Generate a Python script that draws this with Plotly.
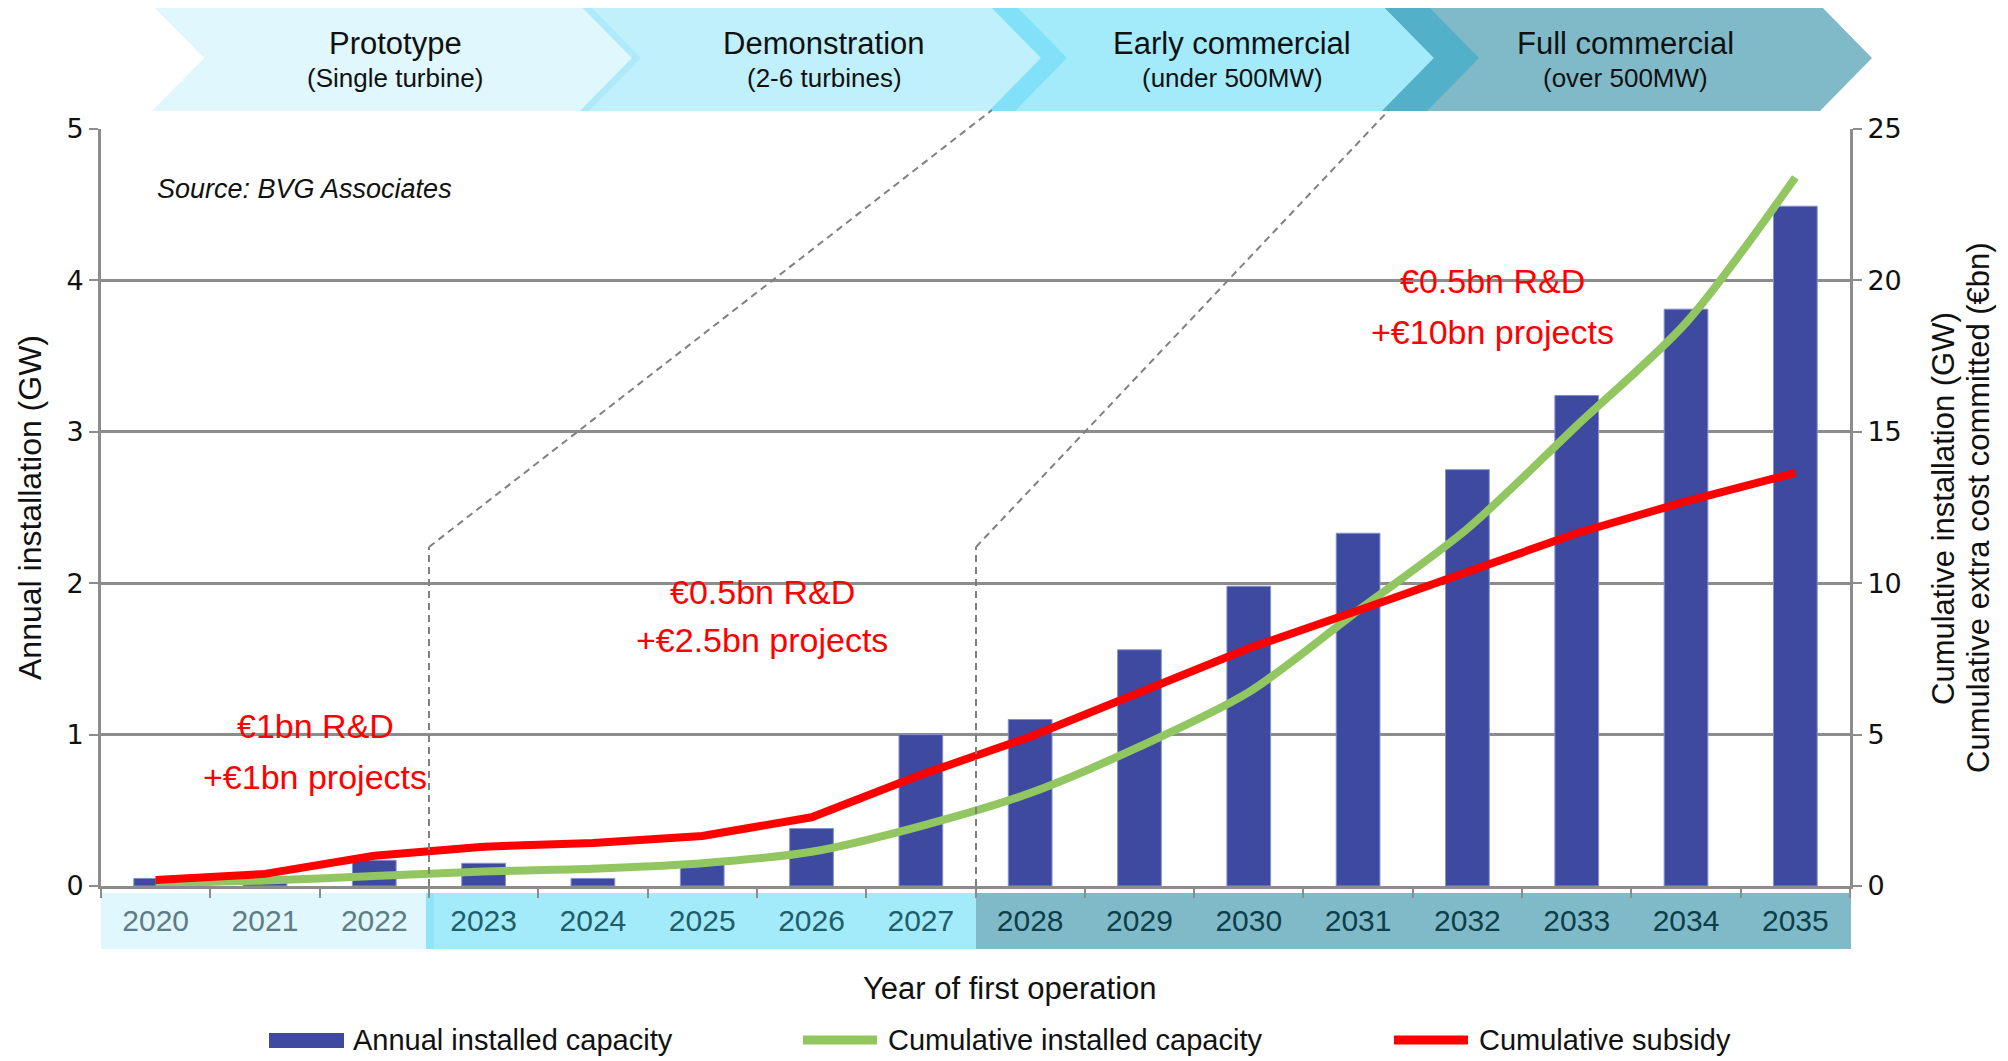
import plotly.graph_objects as go

# ---------------- data ----------------
years = [str(y) for y in range(2020, 2036)]
annual_gw = [0.05, 0.03, 0.17, 0.15, 0.05, 0.15, 0.38, 1.00, 1.10, 1.56, 1.98, 2.33, 2.75, 3.24, 3.81, 4.49]
cumulative_gw = [0.10, 0.18, 0.33, 0.48, 0.57, 0.75, 1.13, 1.98, 3.07, 4.60, 6.40, 9.10, 11.80, 15.20, 18.60, 23.40]
cumulative_subsidy = [0.20, 0.40, 1.00, 1.30, 1.42, 1.65, 2.27, 3.67, 4.93, 6.42, 7.85, 9.10, 10.40, 11.65, 12.70, 13.64]

phase_titles = ["Prototype", "Demonstration", "Early commercial", "Full commercial"]
phase_subtitles = ["(Single turbine)", "(2-6 turbines)", "(under 500MW)", "(over 500MW)"]
phase_year_groups = [["2020", "2021", "2022"],
                     ["2023", "2024", "2025", "2026", "2027"],
                     ["2028", "2029", "2030", "2031", "2032", "2033", "2034", "2035"]]
funding_lines = [("€1bn R&D", "+€1bn projects"),
                 ("€0.5bn R&D", "+€2.5bn projects"),
                 ("€0.5bn R&D", "+€10bn projects")]

# ---------------- layout constants ----------------
# page coordinates of the design; the html body has an 8px default margin
OFF = 8
W, H = 2008 - OFF, 1061 - OFF
PL, PR, PT, PB = 101, 1850, 129, 886          # plot area in page pixels
FONT = "Liberation Sans, Arial, sans-serif"

def px(x):
    return (x - PL) / (PR - PL)

def py(y):
    return (PB - y) / (PB - PT)

BAR = "#3D4A9F"
GREEN = "#92C660"
RED = "#FF0000"
GRID = "#8C8C8C"

fig = go.Figure()

fig.add_trace(go.Bar(x=years, y=annual_gw, name="Annual installed capacity",
                     marker=dict(color=BAR, line=dict(color="#8790CC", width=1)),
                     yaxis="y"))
fig.add_trace(go.Scatter(x=years, y=cumulative_gw, name="Cumulative installed capacity",
                         mode="lines", line=dict(color=GREEN, width=8, shape="spline", smoothing=0.8),
                         yaxis="y2"))
fig.add_trace(go.Scatter(x=years, y=cumulative_subsidy, name="Cumulative subsidy",
                         mode="lines", line=dict(color=RED, width=8),
                         yaxis="y2"))

shapes = []
annotations = []

# ---------- chevrons ----------
def chevron(x0, x1, color, top=5, bot=111, d=52):
    mid = (top + bot) / 2
    pts = [(x0, top), (x1, top), (x1 + d, mid), (x1, bot), (x0, bot), (x0 + d, mid)]
    path = "M " + " L ".join(f"{px(a):.5f},{py(b):.5f}" for a, b in pts) + " Z"
    return dict(type="path", xref="paper", yref="paper", path=path,
                fillcolor=color, line=dict(width=0), layer="below")

shapes.append(chevron(152, 589, "#DFF7FD"))
shapes.append(chevron(580, 1015, "#C0F0FC"))
shapes.append(chevron(989, 1427, "#A3EBFB"))
shapes.append(chevron(1382, 1820, "#80BAC9"))
shapes.append(chevron(580, 589, "#AEEAFA"))
shapes.append(chevron(989, 1015, "#80E1F8"))
shapes.append(chevron(1382, 1427, "#52B0C8"))

chev_centers = [395, 824, 1232, 1625]
for cx, t, s in zip(chev_centers, phase_titles, phase_subtitles):
    annotations.append(dict(xref="paper", yref="paper", x=px(cx), y=py(44), text=t,
                            showarrow=False, xanchor="center", yanchor="middle",
                            font=dict(family=FONT, size=31, color="#111111")))
    annotations.append(dict(xref="paper", yref="paper", x=px(cx), y=py(78), text=s,
                            showarrow=False, xanchor="center", yanchor="middle",
                            font=dict(family=FONT, size=26, color="#111111")))

# ---------- year band under the axis ----------
band_colors = ["#DFF7FD", "#A3EBFB", "#80BAC9"]
band_edges = [101, 429, 976, 1851]
for i in range(3):
    shapes.append(dict(type="rect", xref="paper", yref="paper",
                       x0=px(band_edges[i]), x1=px(band_edges[i + 1]),
                       y0=py(949), y1=py(893), fillcolor=band_colors[i],
                       line=dict(width=0), layer="below"))
shapes.append(dict(type="rect", xref="paper", yref="paper", x0=px(426), x1=px(434),
                   y0=py(949), y1=py(893), fillcolor="#8FE4F8", line=dict(width=0), layer="below"))

label_colors = ["#5E7C84", "#1E5E6B", "#0C3F4A"]
ticktext = []
for y in years:
    gi = [i for i, g in enumerate(phase_year_groups) if y in g][0]
    ticktext.append(f'<span style="color:{label_colors[gi]}">{y}</span>')

# ---------- dashed phase connectors ----------
dash_style = dict(color="#808080", width=2, dash="7px,5px")
for bx, tx in [(429, 992), (976, 1389)]:
    shapes.append(dict(type="line", xref="paper", yref="paper",
                       x0=px(bx), x1=px(bx), y0=py(PB), y1=py(547), line=dash_style))
    shapes.append(dict(type="line", xref="paper", yref="paper",
                       x0=px(bx), x1=px(tx), y0=py(547), y1=py(110), line=dash_style))

# ---------- funding annotations ----------
fund_pos = [(315, 726, 777), (762, 592, 640), (1492, 281, 332)]
for (cx, y1, y2), (l1, l2) in zip(fund_pos, funding_lines):
    for yy, tt in [(y1, l1), (y2, l2)]:
        annotations.append(dict(xref="paper", yref="paper", x=px(cx), y=py(yy), text=tt,
                                showarrow=False, xanchor="center", yanchor="middle",
                                font=dict(family=FONT, size=34, color=RED)))

annotations.append(dict(xref="paper", yref="paper", x=px(155), y=py(189),
                        text="<i>Source: BVG Associates</i>", showarrow=False,
                        xanchor="left", yanchor="middle",
                        font=dict(family=FONT, size=27, color="#111111")))

# ---------- axis titles ----------
annotations.append(dict(xref="paper", yref="paper", x=px(30), y=py(508),
                        text="Annual installation (GW)", textangle=-90, showarrow=False,
                        xanchor="center", yanchor="middle",
                        font=dict(family=FONT, size=32, color="#111111")))
annotations.append(dict(xref="paper", yref="paper", x=px(1943), y=py(508),
                        text="Cumulative installation (GW)", textangle=-90, showarrow=False,
                        xanchor="center", yanchor="middle",
                        font=dict(family=FONT, size=31, color="#111111")))
annotations.append(dict(xref="paper", yref="paper", x=px(1978), y=py(508),
                        text="Cumulative extra cost committed (€bn)", textangle=-90, showarrow=False,
                        xanchor="center", yanchor="middle",
                        font=dict(family=FONT, size=31, color="#111111")))
annotations.append(dict(xref="paper", yref="paper", x=px(1010), y=py(988),
                        text="Year of first operation", showarrow=False,
                        xanchor="center", yanchor="middle",
                        font=dict(family=FONT, size=31, color="#111111")))

# ---------- custom legend ----------
leg_y = 1040
shapes.append(dict(type="rect", xref="paper", yref="paper", x0=px(269), x1=px(344),
                   y0=py(leg_y + 8), y1=py(leg_y - 7), fillcolor=BAR, line=dict(width=0)))
shapes.append(dict(type="line", xref="paper", yref="paper", x0=px(803), x1=px(877),
                   y0=py(leg_y), y1=py(leg_y), line=dict(color=GREEN, width=9)))
shapes.append(dict(type="line", xref="paper", yref="paper", x0=px(1394), x1=px(1468),
                   y0=py(leg_y), y1=py(leg_y), line=dict(color=RED, width=9)))
for lx, name in [(352, "Annual installed capacity"), (887, "Cumulative installed capacity"),
                 (1478, "Cumulative subsidy")]:
    annotations.append(dict(xref="paper", yref="paper", x=px(lx), y=py(leg_y), text=name,
                            showarrow=False, xanchor="left", yanchor="middle", borderpad=0,
                            font=dict(family=FONT, size=29, color="#111111")))

fig.update_layout(
    width=W, height=H, autosize=False,
    margin=dict(l=PL - OFF, r=W - (PR - OFF), t=PT - OFF, b=H - (PB - OFF), pad=0),
    paper_bgcolor="white", plot_bgcolor="white",
    showlegend=False, bargap=0.6,
    font=dict(family=FONT, color="#111111"),
    xaxis=dict(type="category", categoryorder="array", categoryarray=years,
               range=[-0.5, len(years) - 0.5],
               tickmode="array", tickvals=years, ticktext=ticktext,
               tickson="boundaries", ticks="outside", ticklen=9, tickwidth=2, tickcolor=GRID,
               showline=True, linecolor=GRID, linewidth=3, showgrid=False,
               tickfont=dict(family=FONT, size=30), ticklabelstandoff=6),
    yaxis=dict(range=[0, 5], dtick=1, tick0=0, showgrid=True, gridcolor=GRID, gridwidth=3,
               zeroline=False, showline=True, linecolor=GRID, linewidth=3,
               ticks="outside", ticklen=9, tickwidth=2, tickcolor=GRID,
               tickfont=dict(family="DejaVu Sans, sans-serif", size=27)),
    yaxis2=dict(range=[0, 25], dtick=5, tick0=0, overlaying="y", side="right",
                showgrid=False, zeroline=False, showline=True, linecolor=GRID, linewidth=3,
                ticks="outside", ticklen=9, tickwidth=2, tickcolor=GRID,
                tickfont=dict(family="DejaVu Sans, sans-serif", size=27)),
    shapes=shapes, annotations=annotations,
)

fig.write_html("out.html")
